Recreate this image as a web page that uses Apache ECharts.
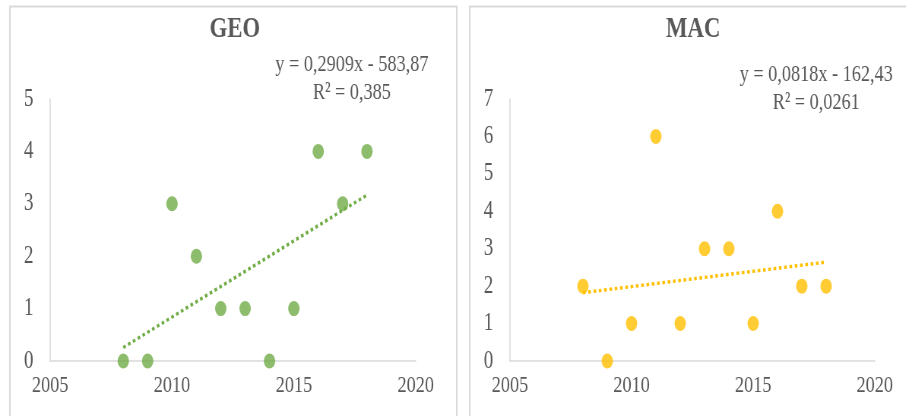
<!DOCTYPE html>
<html>
<head>
<meta charset="utf-8">
<title>GEO / MAC</title>
<script src="https://cdn.jsdelivr.net/npm/echarts@6/dist/echarts.min.js"></script>
<style>
  html, body { margin: 0; padding: 0; background: #ffffff; overflow: hidden; }
  #wrap { width: 906px; height: 416px; overflow: hidden; }
  /* the chart is laid out on a wider canvas and squeezed horizontally */
  #chart { width: 1192px; height: 416px; transform: scaleX(0.76); transform-origin: 0 0; }
</style>
</head>
<body>
<div id="wrap"><div id="chart"></div></div>
<script>
// Publications per year
const years = [2008, 2009, 2010, 2011, 2012, 2013, 2014, 2015, 2016, 2017, 2018];
const geoCounts = [0, 0, 3, 2, 1, 1, 0, 1, 4, 3, 4];
const macCounts = [2, 0, 1, 6, 1, 3, 3, 1, 4, 2, 2];

// Linear trend lines: y = slope * x + intercept
const geoTrend = { slope: 0.2909, intercept: -583.87, r2: 0.385 };
const macTrend = { slope: 0.0818, intercept: -162.43, r2: 0.0261 };
const trendSpan = [2008, 2018];

// Axis ranges and tick labels
const xTicks = [2005, 2010, 2015, 2020];
const geoYMax = 5;
const macYMax = 7;

const GREEN = '#70ad47';
const GOLD = '#ffc000';
const TEXT = '#595959';
const RULE = '#d9d9d9';
const SERIF = '"Liberation Serif", "Times New Roman", serif';

const pairs = (ys) => years.map((x, i) => [x, ys[i]]);
const trendPoints = (t) => trendSpan.map((x) => [x, t.slope * x + t.intercept]);
const comma = (v) => String(v).replace('.', ',');
const equation = (t) =>
  'y = ' + comma(t.slope) + 'x ' + (t.intercept < 0 ? '- ' : '+ ') + comma(Math.abs(t.intercept));
const rSquared = (t) => 'R\u00B2 = ' + comma(t.r2);

function xAxis(gridIndex) {
  return {
    type: 'value', gridIndex,
    min: xTicks[0], max: xTicks[xTicks.length - 1], interval: 5,
    axisLine: { show: true, lineStyle: { color: RULE, width: 1.5 } },
    axisTick: { show: false },
    splitLine: { show: false },
    axisLabel: {
      color: TEXT, fontFamily: SERIF, fontSize: 24, margin: 13,
      formatter: (v) => String(v)
    }
  };
}
function yAxis(gridIndex, max) {
  return {
    type: 'value', gridIndex,
    min: 0, max, interval: 1,
    axisLine: { show: true, lineStyle: { color: RULE, width: 1.5 } },
    axisTick: { show: false },
    splitLine: { show: false },
    axisLabel: { color: TEXT, fontFamily: SERIF, fontSize: 25, margin: 22 }
  };
}
function scatter(idx, data, color) {
  return {
    type: 'scatter', xAxisIndex: idx, yAxisIndex: idx,
    data, symbol: 'circle', symbolSize: 15,
    itemStyle: { color }, z: 2, silent: true
  };
}
function trend(idx, data, color) {
  return {
    type: 'line', xAxisIndex: idx, yAxisIndex: idx,
    data, showSymbol: false, silent: true, z: 3,
    lineStyle: { color, width: 3.5, type: [3.5, 3.5], cap: 'butt' }
  };
}
function eqText(x, y, t) {
  return {
    type: 'text', x, y, z: 10, silent: true,
    style: {
      text: equation(t) + '\n' + rSquared(t),
      fill: TEXT, font: '24px ' + SERIF, lineHeight: 28,
      align: 'center', verticalAlign: 'top'
    }
  };
}

const chart = echarts.init(document.getElementById('chart'));
chart.setOption({
  animation: false,
  backgroundColor: '#ffffff',
  title: [
    { text: 'GEO', left: 309, top: 14, textAlign: 'center', padding: 0,
      textStyle: { color: TEXT, fontFamily: SERIF, fontSize: 30, fontWeight: 'bold' } },
    { text: 'MAC', left: 912, top: 14, textAlign: 'center', padding: 0,
      textStyle: { color: TEXT, fontFamily: SERIF, fontSize: 30, fontWeight: 'bold' } }
  ],
  graphic: [
    { type: 'rect', z: -10, silent: true,
      shape: { x: 13, y: 6.5, width: 588, height: 430 },
      style: { fill: '#ffffff', stroke: RULE, lineWidth: 2 } },
    { type: 'rect', z: -10, silent: true,
      shape: { x: 618, y: 6.5, width: 640, height: 430 },
      style: { fill: '#ffffff', stroke: RULE, lineWidth: 2 } },
    eqText(463, 51, geoTrend),
    eqText(1074, 61, macTrend)
  ],
  grid: [
    { left: 66, width: 481, top: 99, height: 262 },
    { left: 671, width: 480, top: 99, height: 262 }
  ],
  xAxis: [xAxis(0), xAxis(1)],
  yAxis: [yAxis(0, geoYMax), yAxis(1, macYMax)],
  series: [
    scatter(0, pairs(geoCounts), GREEN),
    trend(0, trendPoints(geoTrend), GREEN),
    scatter(1, pairs(macCounts), GOLD),
    trend(1, trendPoints(macTrend), GOLD)
  ]
});
</script>
</body>
</html>
